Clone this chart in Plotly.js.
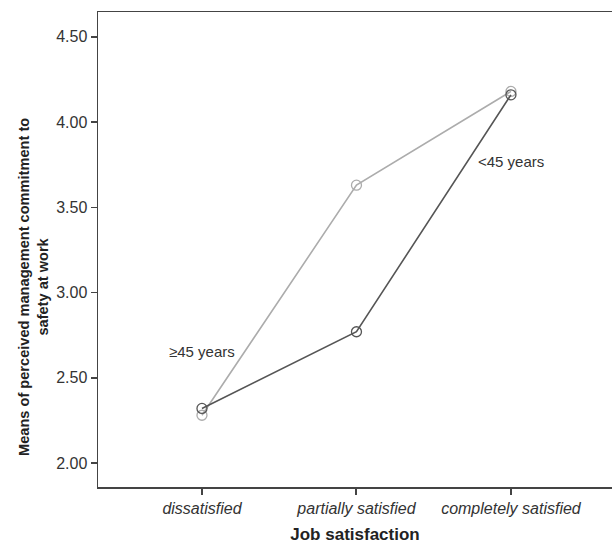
<!DOCTYPE html>
<html>
<head>
<meta charset="utf-8">
<script src="https://cdn.plot.ly/plotly-3.0.1.min.js"></script>
<style>html,body{margin:0;padding:0;background:#fff;}#chart{width:612px;height:544px;}</style>
</head>
<body>
<div id="chart"></div>
<script>
const categories = ["dissatisfied", "partially satisfied", "completely satisfied"];
const olderValues = [2.28, 3.63, 4.18];   // ≥45 years
const youngerValues = [2.32, 2.77, 4.16]; // <45 years
const yTickVals = [2.00, 2.50, 3.00, 3.50, 4.00, 4.50];
const yTickText = ["2.00", "2.50", "3.00", "3.50", "4.00", "4.50"];

const xIdx = categories.map((c, i) => i);

const traces = [
  {
    x: xIdx, y: olderValues, type: "scatter", mode: "lines+markers",
    name: "≥45 years",
    line: {color: "#acacac", width: 1.6},
    marker: {symbol: "circle-open", size: 10, color: "#acacac", line: {width: 1.3}}
  },
  {
    x: xIdx, y: youngerValues, type: "scatter", mode: "lines+markers",
    name: "<45 years",
    line: {color: "#555555", width: 1.6},
    marker: {symbol: "circle-open", size: 10, color: "#555555", line: {width: 1.3}}
  }
];

const font = {family: "Liberation Sans, Arial, sans-serif", color: "#333"};

const plotH = 544 - 12 - 57;
function py(pix) { return (544 - 57 - pix) / plotH; }
function px(pix) { return (pix - 98) / 514; }

const layout = {
  width: 612, height: 544,
  margin: {l: 98, r: 0, t: 12, b: 57},
  paper_bgcolor: "#fff", plot_bgcolor: "#fff",
  showlegend: false,
  font: font,
  xaxis: {
    range: [-0.673, 2.654],
    tickvals: xIdx, ticktext: categories,
    tickfont: {family: font.family, size: 16, color: "#333", style: "italic"},
    ticks: "outside", ticklen: 6, tickwidth: 2, tickcolor: "#444",
    showline: true, linecolor: "#444", linewidth: 1.5, mirror: true,
    showgrid: false, zeroline: false,
    title: {text: "Job satisfaction", font: {family: font.family, size: 17, color: "#222", weight: "bold"}, standoff: 14}
  },
  yaxis: {
    range: [1.859, 4.646],
    tickvals: yTickVals, ticktext: yTickText,
    tickfont: {family: font.family, size: 16, color: "#333"},
    ticks: "outside", ticklen: 6, tickwidth: 1.5, tickcolor: "#444",
    showline: true, linecolor: "#444", linewidth: 1.5, mirror: true,
    showgrid: false, zeroline: false
  },
  annotations: [
    {x: 0.0, y: 2.655, xref: "x", yref: "y", text: "≥45 years", showarrow: false,
     xanchor: "center", yanchor: "middle",
     font: {family: font.family, size: 15, color: "#333"}},
    {x: 2.0, y: 3.77, xref: "x", yref: "y", text: "<45 years", showarrow: false,
     xanchor: "center", yanchor: "middle",
     font: {family: font.family, size: 15, color: "#333"}},
    {x: px(33), y: py(287), xref: "paper", yref: "paper",
     xanchor: "center", yanchor: "middle",
     text: "<b>Means of perceived management commitment to<br>safety at work</b>",
     textangle: -90, showarrow: false, align: "center",
     font: {family: font.family, size: 14.6, color: "#222"}}
  ]
};

Plotly.newPlot("chart", traces, layout, {staticPlot: true, displayModeBar: false});
</script>
</body>
</html>
